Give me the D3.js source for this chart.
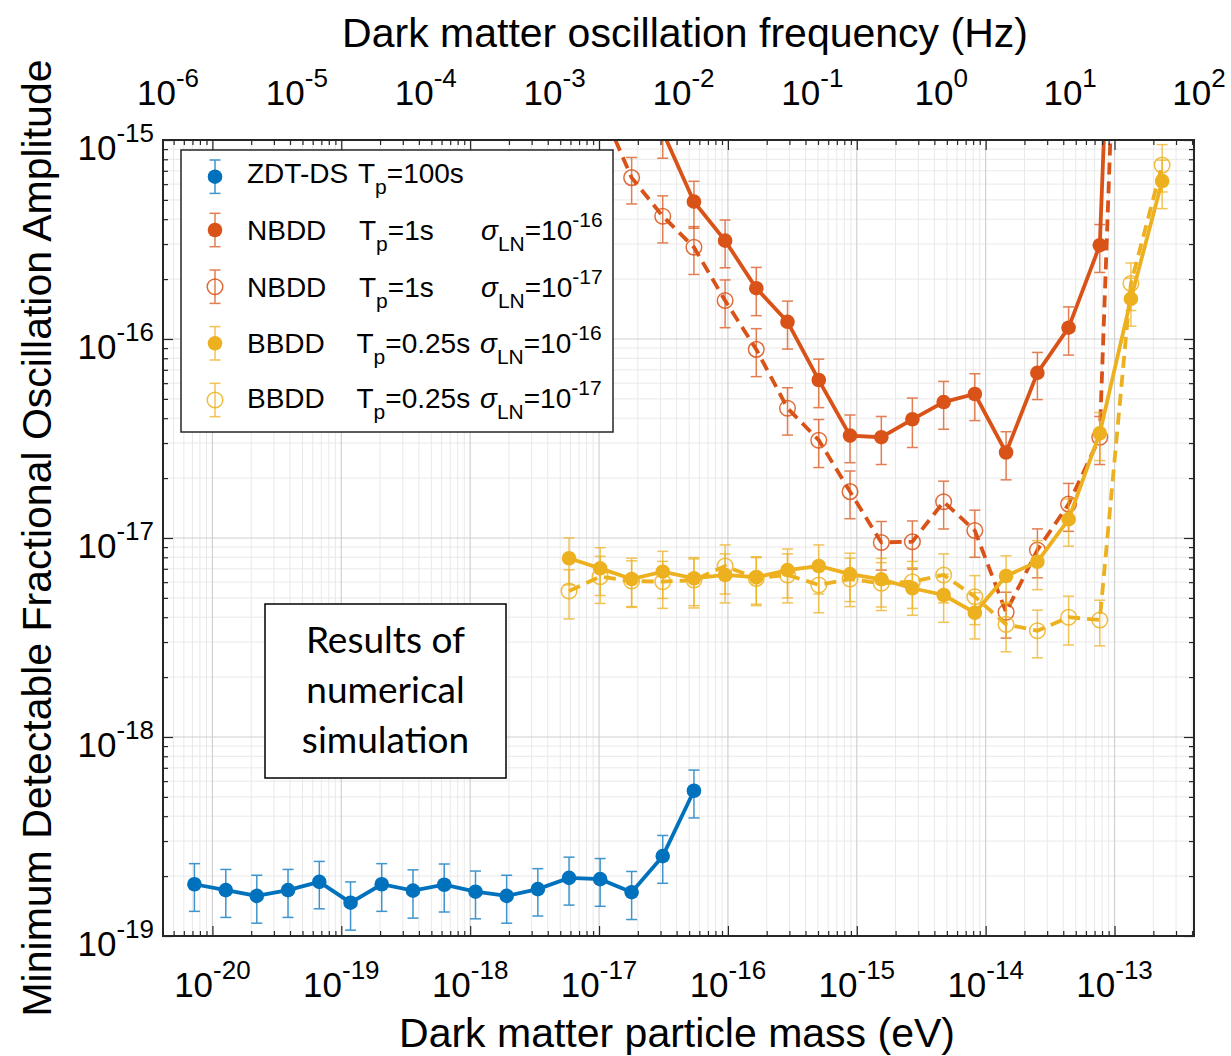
<!DOCTYPE html>
<html>
<head>
<meta charset="utf-8">
<script src="https://cdn.jsdelivr.net/npm/d3@7"></script>
<style>
body { margin: 0; background: #fff; }
text { font-family: "Liberation Sans", Arial, sans-serif; fill: #000; }
</style>
</head>
<body>
<svg width="1231" height="1056"></svg>
<script>
// mass grid (eV) the simulations were run on
var massGrid = [7.25e-21, 1.27e-20, 2.21e-20, 3.86e-20, 6.75e-20, 1.18e-19, 2.06e-19, 3.60e-19,
  6.29e-19, 1.10e-18, 1.92e-18, 3.35e-18, 5.85e-18, 1.02e-17, 1.79e-17, 3.12e-17,
  5.45e-17, 9.51e-17, 1.66e-16, 2.90e-16, 5.07e-16, 8.86e-16, 1.55e-15, 2.70e-15,
  4.72e-15, 8.24e-15, 1.44e-14, 2.52e-14, 4.40e-14, 7.68e-14, 1.34e-13, 2.34e-13];

// ZDT-DS Tp=100s  (grid 0..16)
var zdtVals = [1.82e-19, 1.70e-19, 1.59e-19, 1.70e-19, 1.87e-19, 1.47e-19, 1.82e-19, 1.69e-19, 1.81e-19,
  1.67e-19, 1.59e-19, 1.72e-19, 1.96e-19, 1.93e-19, 1.66e-19, 2.52e-19, 5.37e-19];
var zdtErr = [0.49e-19, 0.46e-19, 0.43e-19, 0.46e-19, 0.50e-19, 0.40e-19, 0.49e-19, 0.46e-19, 0.49e-19,
  0.45e-19, 0.43e-19, 0.46e-19, 0.53e-19, 0.52e-19, 0.45e-19, 0.68e-19, 1.45e-19];

// NBDD Tp=1s sigma=1e-16  (grid 15..30)
var nbdd16Vals = [1.10e-15, 4.90e-16, 3.12e-16, 1.80e-16, 1.22e-16, 6.22e-17, 3.27e-17, 3.21e-17,
  3.95e-17, 4.82e-17, 5.29e-17, 2.69e-17, 6.76e-17, 1.14e-16, 2.96e-16, 3.3e-12];
var nbdd16Err = [2.9e-16, 1.3e-16, 8.4e-17, 4.9e-17, 3.3e-17, 1.7e-17, 8.8e-18, 8.7e-18,
  1.1e-17, 1.3e-17, 1.4e-17, 7.3e-18, 1.8e-17, 3.1e-17, 8.0e-17, 9e-13];

// NBDD Tp=1s sigma=1e-17  (grid 13..30)
var nbdd17Vals = [1.5e-15, 6.47e-16, 4.14e-16, 2.89e-16, 1.56e-16, 8.87e-17, 4.49e-17, 3.10e-17, 1.71e-17,
  9.50e-18, 9.58e-18, 1.52e-17, 1.09e-17, 4.24e-18, 8.71e-18, 1.48e-17, 3.21e-17, 8e-13];
var nbdd17Err = [4e-16, 1.7e-16, 1.1e-16, 7.8e-17, 4.2e-17, 2.4e-17, 1.2e-17, 8.4e-18, 4.6e-18,
  2.6e-18, 2.6e-18, 4.1e-18, 2.9e-18, 1.1e-18, 2.4e-18, 4.0e-18, 8.7e-18, 2e-13];

// BBDD Tp=0.25s sigma=1e-16  (grid 12..31)
var bbdd16Vals = [7.91e-18, 7.04e-18, 6.22e-18, 6.77e-18, 6.27e-18, 6.52e-18, 6.35e-18, 6.90e-18, 7.23e-18, 6.59e-18,
  6.20e-18, 5.59e-18, 5.17e-18, 4.21e-18, 6.44e-18, 7.60e-18, 1.24e-17, 3.36e-17, 1.59e-16, 6.22e-16];
var bbdd16Err = [2.1e-18, 1.9e-18, 1.7e-18, 1.8e-18, 1.7e-18, 1.8e-18, 1.7e-18, 1.9e-18, 2.0e-18, 1.8e-18,
  1.7e-18, 1.5e-18, 1.4e-18, 1.1e-18, 1.7e-18, 2.1e-18, 3.3e-18, 9.1e-18, 4.3e-17, 1.7e-16];

// BBDD Tp=0.25s sigma=1e-17  (grid 12..31)
var bbdd17Vals = [5.42e-18, 6.39e-18, 6.08e-18, 6.03e-18, 6.15e-18, 7.23e-18, 6.27e-18, 6.52e-18, 5.81e-18, 6.22e-18,
  5.92e-18, 6.03e-18, 6.52e-18, 5.07e-18, 3.68e-18, 3.42e-18, 4.00e-18, 3.87e-18, 1.90e-16, 7.48e-16];
var bbdd17Err = [1.5e-18, 1.7e-18, 1.6e-18, 1.6e-18, 1.7e-18, 2.0e-18, 1.7e-18, 1.8e-18, 1.6e-18, 1.7e-18,
  1.6e-18, 1.6e-18, 1.8e-18, 1.4e-18, 1.0e-18, 0.92e-18, 1.1e-18, 1.0e-18, 5.1e-17, 2.0e-16];

var massTicks = [-20, -19, -18, -17, -16, -15, -14, -13];
var freqTicks = [-6, -5, -4, -3, -2, -1, 0, 1, 2];
var ampTicks = [-19, -18, -17, -16, -15];

window.onload = function() {
var blue = '#0072BD', orange = '#D95319', yellow = '#EDB120';
var hzPerEv = 2.418e14;

var svg = d3.select('svg');
var pL = 163, pR = 1194, pT = 140, pB = 936;

var x = d3.scaleLog().domain([1e-6 / hzPerEv, 1e2 / hzPerEv]).range([pL, pR]);
var xf = d3.scaleLog().domain([1e-6, 1e2]).range([pL, pR]);
var y = d3.scaleLog().domain([1e-19, 1e-15]).range([pB, pT]);

svg.append('rect').attr('width', 1231).attr('height', 1056).attr('fill', '#fff');

// minor / major values
var xMinor = [], yMinor = [];
for (var d = -21; d <= -13; d++) {
  for (var k = 2; k <= 9; k++) {
    var v = k * Math.pow(10, d);
    if (v > x.domain()[0] && v < x.domain()[1]) xMinor.push(v);
  }
}
for (var d = -19; d < -15; d++) {
  for (var k = 2; k <= 9; k++) yMinor.push(k * Math.pow(10, d));
}
var xMajor = massTicks.map(function(p) { return Math.pow(10, p); });
var yMajor = ampTicks.map(function(p) { return Math.pow(10, p); });

// grid
var grid = svg.append('g');
grid.selectAll('.gxm').data(xMinor).enter().append('line')
  .attr('x1', x).attr('x2', x).attr('y1', pT).attr('y2', pB)
  .attr('stroke', '#e9e9e9').attr('stroke-width', 1);
grid.selectAll('.gym').data(yMinor).enter().append('line')
  .attr('y1', y).attr('y2', y).attr('x1', pL).attr('x2', pR)
  .attr('stroke', '#e9e9e9').attr('stroke-width', 1);
grid.selectAll('.gx').data(xMajor).enter().append('line')
  .attr('x1', x).attr('x2', x).attr('y1', pT).attr('y2', pB)
  .attr('stroke', '#d0d0d0').attr('stroke-width', 1.2);
grid.selectAll('.gy').data(yMajor).enter().append('line')
  .attr('y1', y).attr('y2', y).attr('x1', pL).attr('x2', pR)
  .attr('stroke', '#d0d0d0').attr('stroke-width', 1.2);

// plot area
svg.append('clipPath').attr('id', 'clip').append('rect')
  .attr('x', pL).attr('y', pT).attr('width', pR - pL).attr('height', pB - pT);
var plot = svg.append('g').attr('clip-path', 'url(#clip)');

function drawSeries(mass, vals, errs, color, filled) {
  var pts = mass.map(function(m, i) { return {m: m, v: vals[i], e: errs[i]}; });
  var g = plot.append('g');
  g.append('path').datum(pts)
    .attr('d', d3.line().x(function(p) { return x(p.m); }).y(function(p) { return y(p.v); }))
    .attr('fill', 'none').attr('stroke', color).attr('stroke-width', 3.8)
    .attr('stroke-dasharray', filled ? null : '12,7');
  var eb = g.append('g').attr('stroke', color).attr('stroke-width', 1.5).attr('opacity', 0.75);
  pts.forEach(function(p) {
    var cx = x(p.m), y0 = y(p.v - p.e), y1 = y(p.v + p.e);
    eb.append('line').attr('x1', cx).attr('x2', cx).attr('y1', y0).attr('y2', y1);
    eb.append('line').attr('x1', cx - 5.5).attr('x2', cx + 5.5).attr('y1', y0).attr('y2', y0);
    eb.append('line').attr('x1', cx - 5.5).attr('x2', cx + 5.5).attr('y1', y1).attr('y2', y1);
  });
  var inside = pts.filter(function(p) { return p.v >= 1e-19 && p.v <= 1e-15; });
  g.selectAll('circle').data(inside).enter().append('circle')
    .attr('cx', function(p) { return x(p.m); })
    .attr('cy', function(p) { return y(p.v); })
    .attr('r', filled ? 7.3 : 7.8)
    .attr('fill', filled ? color : 'none')
    .attr('stroke', filled ? 'none' : color)
    .attr('stroke-width', 1.5)
    .attr('opacity', filled ? 1 : 0.85);
}

drawSeries(massGrid.slice(0, 17), zdtVals, zdtErr, blue, true);
drawSeries(massGrid.slice(15, 31), nbdd16Vals, nbdd16Err, orange, true);
drawSeries(massGrid.slice(13, 31), nbdd17Vals, nbdd17Err, orange, false);
drawSeries(massGrid.slice(12, 32), bbdd16Vals, bbdd16Err, yellow, true);
drawSeries(massGrid.slice(12, 32), bbdd17Vals, bbdd17Err, yellow, false);

// ticks (inward, mirrored on all four sides)
function tickAxis(axis, tx, ty, len, vals) {
  var a = svg.append('g').attr('transform', 'translate(' + tx + ',' + ty + ')')
    .call(axis.tickValues(vals).tickSize(-len).tickFormat(''));
  a.select('.domain').remove();
  a.selectAll('line').attr('stroke', '#262626').attr('stroke-width', 1.2);
}
tickAxis(d3.axisBottom(x), 0, pB, 10, xMajor);
tickAxis(d3.axisBottom(x), 0, pB, 5, xMinor);
tickAxis(d3.axisTop(x), 0, pT, 10, xMajor);
tickAxis(d3.axisTop(x), 0, pT, 5, xMinor);
tickAxis(d3.axisLeft(y), pL, 0, 10, yMajor);
tickAxis(d3.axisLeft(y), pL, 0, 5, yMinor);
tickAxis(d3.axisRight(y), pR, 0, 10, yMajor);
tickAxis(d3.axisRight(y), pR, 0, 5, yMinor);

svg.append('rect').attr('x', pL).attr('y', pT)
  .attr('width', pR - pL).attr('height', pB - pT)
  .attr('fill', 'none').attr('stroke', '#262626').attr('stroke-width', 2);

// power-of-ten labels
function powLabel(px, py, expo, anchor) {
  var t = svg.append('text').attr('x', px).attr('y', py).attr('text-anchor', anchor)
    .style('font-size', '35px');
  t.append('tspan').text('10');
  t.append('tspan').attr('dy', -18).style('font-size', '26px').text(expo);
}
massTicks.forEach(function(p) { powLabel(x(Math.pow(10, p)), 997, p, 'middle'); });
freqTicks.forEach(function(p) { powLabel(xf(Math.pow(10, p)) + 5, 105, p, 'middle'); });
ampTicks.forEach(function(p) { powLabel(154, y(Math.pow(10, p)) + 20, p, 'end'); });

// axis titles
svg.append('text').attr('x', 685).attr('y', 47).attr('text-anchor', 'middle')
  .style('font-size', '41px').text('Dark matter oscillation frequency (Hz)');
svg.append('text').attr('x', 677).attr('y', 1047).attr('text-anchor', 'middle')
  .style('font-size', '41px').text('Dark matter particle mass (eV)');
svg.append('text').attr('transform', 'translate(51,538) rotate(-90)').attr('text-anchor', 'middle')
  .style('font-size', '41px').text('Minimum Detectable Fractional Oscillation Amplitude');

// legend
var legend = svg.append('g');
legend.append('rect').attr('x', 181).attr('y', 150).attr('width', 432).attr('height', 282)
  .attr('fill', '#fff').attr('stroke', '#262626').attr('stroke-width', 1.5);

var legendRows = [
  {name: 'ZDT-DS', tp: '=100s', tx: 358, sig: null, color: blue, filled: true, my: 176.7, by: 183.3},
  {name: 'NBDD', tp: '=1s', tx: 359, sig: '-16', sx: 481, color: orange, filled: true, my: 230, by: 240},
  {name: 'NBDD', tp: '=1s', tx: 359, sig: '-17', sx: 481, color: orange, filled: false, my: 286.7, by: 296.7},
  {name: 'BBDD', tp: '=0.25s', tx: 356.5, sig: '-16', sx: 480, color: yellow, filled: true, my: 343.3, by: 352.7},
  {name: 'BBDD', tp: '=0.25s', tx: 356.5, sig: '-17', sx: 480, color: yellow, filled: false, my: 400, by: 408.3}
];
legendRows.forEach(function(r) {
  var g = legend.append('g');
  var eb = g.append('g').attr('stroke', r.color).attr('stroke-width', 1.5).attr('opacity', 0.75);
  eb.append('line').attr('x1', 215).attr('x2', 215).attr('y1', r.my - 16.7).attr('y2', r.my + 16.7);
  eb.append('line').attr('x1', 209.5).attr('x2', 220.5).attr('y1', r.my - 16.7).attr('y2', r.my - 16.7);
  eb.append('line').attr('x1', 209.5).attr('x2', 220.5).attr('y1', r.my + 16.7).attr('y2', r.my + 16.7);
  g.append('circle').attr('cx', 215).attr('cy', r.my).attr('r', r.filled ? 7.3 : 7.8)
    .attr('fill', r.filled ? r.color : 'none').attr('stroke', r.filled ? 'none' : r.color)
    .attr('stroke-width', 1.5).attr('opacity', r.filled ? 1 : 0.85);
  g.append('text').attr('x', 247).attr('y', r.by).style('font-size', '28px').text(r.name);
  var t = g.append('text').attr('x', r.tx).attr('y', r.by).style('font-size', '28px');
  t.append('tspan').text('T');
  t.append('tspan').attr('dy', 11).style('font-size', '21px').text('p');
  t.append('tspan').attr('dy', -11).text(r.tp);
  if (r.sig) {
    var s = g.append('text').attr('x', r.sx).attr('y', r.by).style('font-size', '28px');
    s.append('tspan').style('font-style', 'italic').text('\u03c3');
    s.append('tspan').attr('dy', 11).style('font-size', '21px').text('LN');
    s.append('tspan').attr('dy', -11).text('=10');
    s.append('tspan').attr('dy', -13).style('font-size', '21px').text(r.sig);
  }
});

// annotation box
var note = svg.append('g');
note.append('rect').attr('x', 265).attr('y', 604).attr('width', 241).attr('height', 174)
  .attr('fill', '#fff').attr('stroke', '#000').attr('stroke-width', 1.5);
['Results of', 'numerical', 'simulation'].forEach(function(line, i) {
  note.append('text').attr('x', 385.5).attr('y', 653 + i * 50).attr('text-anchor', 'middle')
    .style('font-family', 'Lato, "Open Sans", sans-serif').style('font-size', '37px').text(line);
});
};
</script>
</body>
</html>
